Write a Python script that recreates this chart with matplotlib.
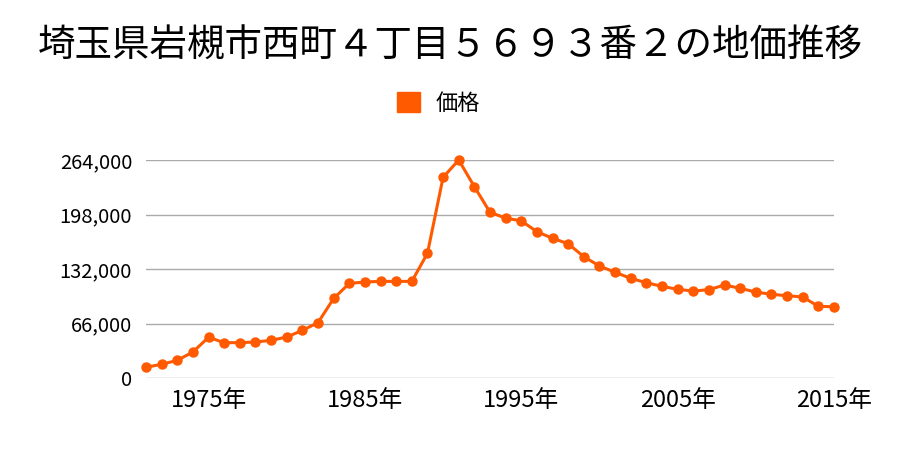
import matplotlib
matplotlib.use('Agg')
import matplotlib.pyplot as plt
from matplotlib.ticker import FuncFormatter

plt.rcParams['font.family'] = ['Noto Sans CJK JP', 'DejaVu Sans']

# Price data
years = list(range(1971, 2016))
prices = [13000, 16600, 21400, 31500, 49300, 42800, 42800, 43600, 45600, 49600,
          57700, 67000, 96300, 114500, 116300, 117000, 117000, 117000, 151000, 243000,
          264000, 231700, 200700, 193600, 190300, 177200, 169200, 162600, 146900, 135600,
          128000, 120700, 115400, 111000, 107400, 105300, 107000, 112600, 108600, 104100,
          101300, 99700, 98100, 86800, 86300]

yticks = [0, 66000, 132000, 198000, 264000]
xticks = [1975, 1985, 1995, 2005, 2015]
color = '#FF5A00'

fig = plt.figure(figsize=(9, 4.5), dpi=100)
ax = fig.add_axes([146 / 900, 1 - 378 / 450, (834 - 146) / 900, (378 - 160) / 450])

ax.plot(years, prices, color=color, linewidth=2.2, marker='o', markersize=6.5,
        label='価格', clip_on=False, zorder=3)

ax.set_xlim(1971, 2015)
ax.set_ylim(0, 264000)
ax.set_yticks(yticks)
ax.set_xticks(xticks)
ax.yaxis.set_major_formatter(FuncFormatter(lambda v, p: f'{int(v):,}'))
ax.set_xticklabels([f'{y}年' for y in xticks])
ax.tick_params(axis='both', length=0)
ax.tick_params(axis='y', pad=10, labelsize=14.5)
ax.tick_params(axis='x', pad=8, labelsize=17)
ax.grid(axis='y', color='#aaaaaa', linewidth=1)
ax.set_axisbelow(True)
for s in ax.spines.values():
    s.set_visible(False)

fig.text(0.5, 1 - 45 / 450, '埼玉県岩槻市西町４丁目５６９３番２の地価推移',
         ha='center', va='center', fontsize=27)

handles = [plt.Rectangle((0, 0), 1, 1, color=color)]
fig.legend(handles, ['価格'], loc='center', bbox_to_anchor=(0.487, 1 - 103 / 450),
           frameon=False, fontsize=16, handlelength=1.05, handleheight=1.0, handletextpad=0.7)

fig.savefig('out.png', dpi=100)
